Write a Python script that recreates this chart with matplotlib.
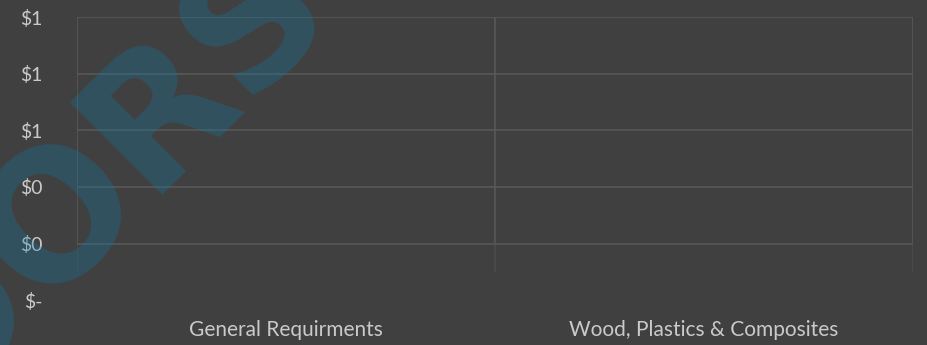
import matplotlib
matplotlib.use("Agg")
from matplotlib import pyplot as plt

categories = ["General Requirments", "Wood, Plastics & Composites"]
values = [0, 0]
y_ticks = [0, 0.2, 0.4, 0.6, 0.8, 1.0]
y_labels = ["$-", "$0", "$0", "$1", "$1", "$1"]

bg = "#404040"
grid_c = "#595959"
text_c = "#cacaca"

plt.rcParams["font.family"] = ["Lato", "DejaVu Sans"]

fig = plt.figure(figsize=(9.27, 3.45), dpi=100, facecolor=bg)
ax = fig.add_axes([0.0831, 0.13, 0.9019, 0.8207])
ax.set_facecolor(bg)

x = list(range(len(categories)))
ax.bar(x, values, width=0.6, color="#4f81bd")
ax.set_xlim(-0.5, len(categories) - 0.5)
ax.set_ylim(0, 1.0)

# horizontal gridlines (back wall)
for t in y_ticks[1:]:
    ax.axhline(t, color=grid_c, lw=1.1, zorder=0)
# vertical category dividers, fading toward the floor
for b in [i - 0.5 for i in range(len(categories) + 1)]:
    ax.vlines(b, 0.2, 1.0, color=grid_c, lw=1.1, zorder=0)
    ax.vlines(b, 0.1, 0.2, color=grid_c, lw=1.1, alpha=0.5, zorder=0)

ax.set_xticks(x)
ax.set_xticklabels(categories, fontsize=15, color=text_c)
ax.set_yticks(y_ticks)
ax.set_yticklabels(y_labels, fontsize=14, color=text_c)
ax.tick_params(axis="x", length=0, pad=14)
ax.tick_params(axis="y", length=0, pad=25)
for s in ax.spines.values():
    s.set_visible(False)

# watermark
fig.text(0.05, 0.35, "DOORS", rotation=45, fontsize=128, fontweight="bold",
         family="DejaVu Sans", color="#0f7aa8", alpha=0.3,
         ha="center", va="center")

fig.savefig("out.png", dpi=100, facecolor=bg)
